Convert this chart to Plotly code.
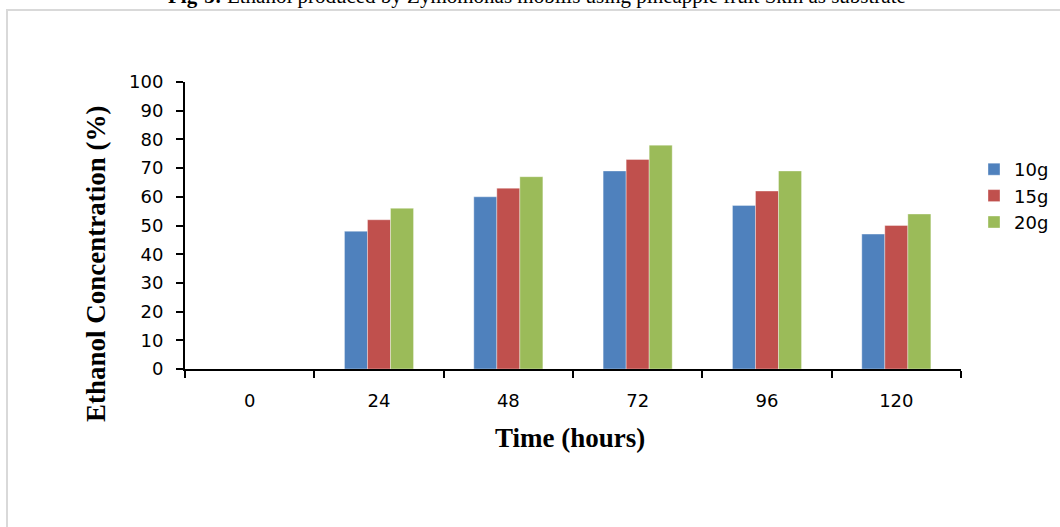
import plotly.graph_objects as go

# Fermentation time points (hours) and ethanol concentration (%) per substrate load
time_labels = ["0", "24", "48", "72", "96", "120"]
series_names = ["10g", "15g", "20g"]
ethanol_10g = [0, 48, 60, 69, 57, 47]
ethanol_15g = [0, 52, 63, 73, 62, 50]
ethanol_20g = [0, 56, 67, 78, 69, 54]
y_ticks = [0, 10, 20, 30, 40, 50, 60, 70, 80, 90, 100]

colors = ["#4F81BD", "#C0504D", "#9BBB59"]

fig = go.Figure()
for name, vals, col in zip(series_names, [ethanol_10g, ethanol_15g, ethanol_20g], colors):
    fig.add_trace(go.Bar(
        x=time_labels, y=vals, name=name,
        marker=dict(color=col, line=dict(color="rgba(255,255,255,0.6)", width=0.6)),
    ))

tick_font = dict(family="DejaVu Sans, Arial, sans-serif", size=18, color="#000")
serif_bold = dict(family="Liberation Serif, Times New Roman, serif", size=27, color="#000")

# plot area spans x 185..961 px and y 82..369 px
L, R, T, B = 185, 99, 82, 158
W, H = 1060 - L - R, 527 - T - B


def px_x(px):
    return (px - L) / W


def px_y(py):
    return (527 - B - py) / H


fig.update_layout(
    width=1060, height=527,
    margin=dict(l=L, r=R, t=T, b=B, autoexpand=False),
    paper_bgcolor="white", plot_bgcolor="white",
    barmode="group", bargap=0.466, bargroupgap=0,
    showlegend=True,
    legend=dict(
        x=px_x(974), y=px_y(151), xanchor="left", yanchor="top",
        font=tick_font, bgcolor="rgba(0,0,0,0)",
        itemwidth=30, tracegroupgap=0,
    ),
    xaxis=dict(
        type="category", showline=True, linecolor="#000", linewidth=2,
        ticks="outside", tickson="boundaries", ticklen=7, tickwidth=2, tickcolor="#000",
        tickfont=tick_font, showgrid=False, zeroline=False,
        ticklabelstandoff=14,
    ),
    yaxis=dict(
        range=[0, 100], tickvals=y_ticks, showline=True, linecolor="#000", linewidth=2,
        ticks="outside", ticklen=7, tickwidth=2, tickcolor="#000",
        tickfont=tick_font, showgrid=False, zeroline=False,
        ticklabelstandoff=9,
    ),
)

# Axis titles
fig.add_annotation(
    xref="paper", yref="paper", x=px_x(570), y=px_y(438),
    xanchor="center", yanchor="middle", showarrow=False,
    text="<b>Time (hours)</b>", font=serif_bold,
)
fig.add_annotation(
    xref="paper", yref="paper", x=px_x(96), y=px_y(264),
    xanchor="center", yanchor="middle", showarrow=False, textangle=-90,
    text="<b>Ethanol Concentration (%)</b>", font=serif_bold,
)

# Outer frame of the chart area
fig.add_shape(
    type="rect", xref="paper", yref="paper",
    x0=px_x(7), x1=px_x(1120), y0=px_y(560), y1=px_y(10),
    line=dict(color="#d9d9d9", width=2), fillcolor="rgba(0,0,0,0)", layer="below",
)

# Figure caption above the frame
fig.add_annotation(
    xref="paper", yref="paper", x=px_x(537), y=px_y(10),
    xanchor="center", yanchor="bottom", showarrow=False,
    text="<b>Fig-3:</b> Ethanol produced by Zymomonas mobilis using pineapple fruit Skin as substrate",
    font=dict(family="Liberation Serif, Times New Roman, serif", size=21, color="#000"),
)

fig.write_html("out.html")
